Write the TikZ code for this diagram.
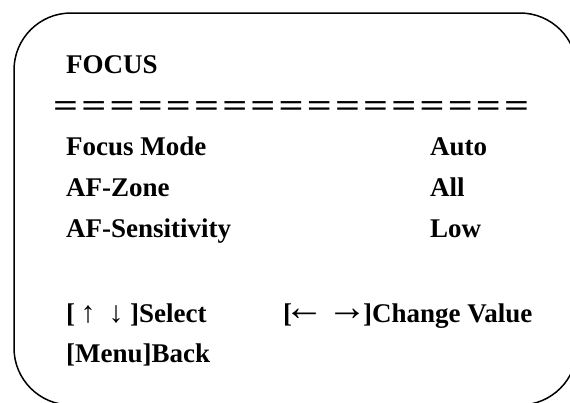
\documentclass[tikz,border=0pt]{standalone}
\usepackage{fontspec}
\setmainfont{Liberation Serif}
\newcommand{\eqg}{\scalebox{1.1}[0.8]{=}}
\newcommand{\arw}[4]{\makebox[#1pt][c]{\raisebox{#3pt}{\mdseries\fontsize{#2}{#2}\selectfont #4}}}
\begin{document}
\begin{tikzpicture}[x=1pt,y=-1pt,
  lbl/.style={anchor=base west,inner sep=0pt,font=\fontsize{27}{30}\selectfont\bfseries},
  frame/.style={draw=black,line width=1.5pt,rounded corners=57pt}]
\useasboundingbox (0,0) rectangle (570,402);
\draw[frame] (14,13) rectangle (577,405);
\node[lbl] (title) at (66,73) {FOCUS};
\node[anchor=base west,inner sep=0pt,font=\fontsize{40}{42}\selectfont\bfseries] (rule) at (53,116)
  {\makebox[476pt][s]{\eqg\hfill\eqg\hfill\eqg\hfill\eqg\hfill\eqg\hfill\eqg\hfill\eqg\hfill\eqg\hfill\eqg\hfill\eqg\hfill\eqg\hfill\eqg\hfill\eqg\hfill\eqg\hfill\eqg\hfill\eqg\hfill\eqg}};
\node[lbl] (fm) at (66,155) {Focus Mode};
\node[lbl] (fmv) at (430,155) {Auto};
\node[lbl] (az) at (66,196) {AF-Zone};
\node[lbl] (azv) at (430,196) {All};
\node[lbl] (as) at (66,237) {AF-Sensitivity};
\node[lbl] (asv) at (430,237) {Low};
\node[lbl] (sel) at (66,322) {[\arw{26}{30}{0}{↑}\hspace{2pt}\arw{26}{30}{0}{↓}\hspace{1pt}]Select};
\node[lbl] (chg) at (283,322) {[\arw{25}{40}{2}{←}\hspace{18pt}\arw{25}{40}{2}{→}\hspace{3pt}]Change Value};
\node[lbl] (back) at (66,362) {[Menu]Back};
\end{tikzpicture}
\end{document}
